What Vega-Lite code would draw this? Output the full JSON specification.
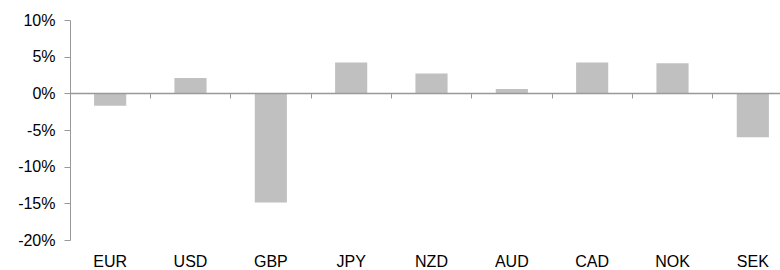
{
  "$schema": "https://vega.github.io/schema/vega-lite/v6.json",
  "autosize": "none",
  "width": 710,
  "height": 220,
  "padding": {"left": 70, "top": 20, "right": 0, "bottom": 30},
  "background": "white",
  "config": {
    "view": {"stroke": null},
    "font": "Liberation Sans",
    "axis": {"labelFont": "Liberation Sans", "labelColor": "#000000", "grid": false}
  },
  "data": {
    "values": [
      {"currency": "EUR", "value": -1.7},
      {"currency": "USD", "value": 2.1},
      {"currency": "GBP", "value": -14.9},
      {"currency": "JPY", "value": 4.2},
      {"currency": "NZD", "value": 2.7},
      {"currency": "AUD", "value": 0.6},
      {"currency": "CAD", "value": 4.2},
      {"currency": "NOK", "value": 4.1},
      {"currency": "SEK", "value": -6.0}
    ]
  },
  "layer": [
    {
      "mark": {"type": "bar", "color": "#c0c0c0"},
      "encoding": {
        "x": {
          "field": "currency",
          "type": "nominal",
          "sort": null,
          "scale": {"paddingInner": 0.6, "paddingOuter": 0.3, "range": [0, 723]},
          "axis": {
            "title": null,
            "orient": "bottom",
            "domain": false,
            "ticks": false,
            "labelAngle": 0,
            "labelFontSize": 16,
            "labelPadding": 13
          }
        },
        "y": {
          "field": "value",
          "type": "quantitative",
          "scale": {"domain": [-20, 10], "nice": false, "zero": false},
          "axis": {
            "title": null,
            "values": [-20, -15, -10, -5, 0, 5, 10],
            "labelExpr": "datum.value + '%'",
            "labelFontSize": 16,
            "labelPadding": 9,
            "tickSize": 6,
            "tickColor": "#999999",
            "domainColor": "#999999"
          }
        }
      }
    },
    {
      "mark": {"type": "bar", "opacity": 0},
      "encoding": {
        "x": {
          "field": "currency",
          "type": "nominal",
          "sort": null,
          "scale": {"type": "band", "paddingInner": 0, "paddingOuter": 0, "range": [0, 723]},
          "axis": {
            "title": null,
            "orient": "bottom",
            "offset": -147,
            "labels": false,
            "domain": true,
            "domainColor": "#999999",
            "domainWidth": 1.5,
            "ticks": true,
            "tickColor": "#999999",
            "tickSize": 5,
            "bandPosition": 0,
            "zindex": 1
          }
        },
        "y": {"datum": 0, "type": "quantitative", "axis": null}
      }
    }
  ],
  "resolve": {"scale": {"x": "independent"}, "axis": {"x": "independent", "y": "independent"}}
}
